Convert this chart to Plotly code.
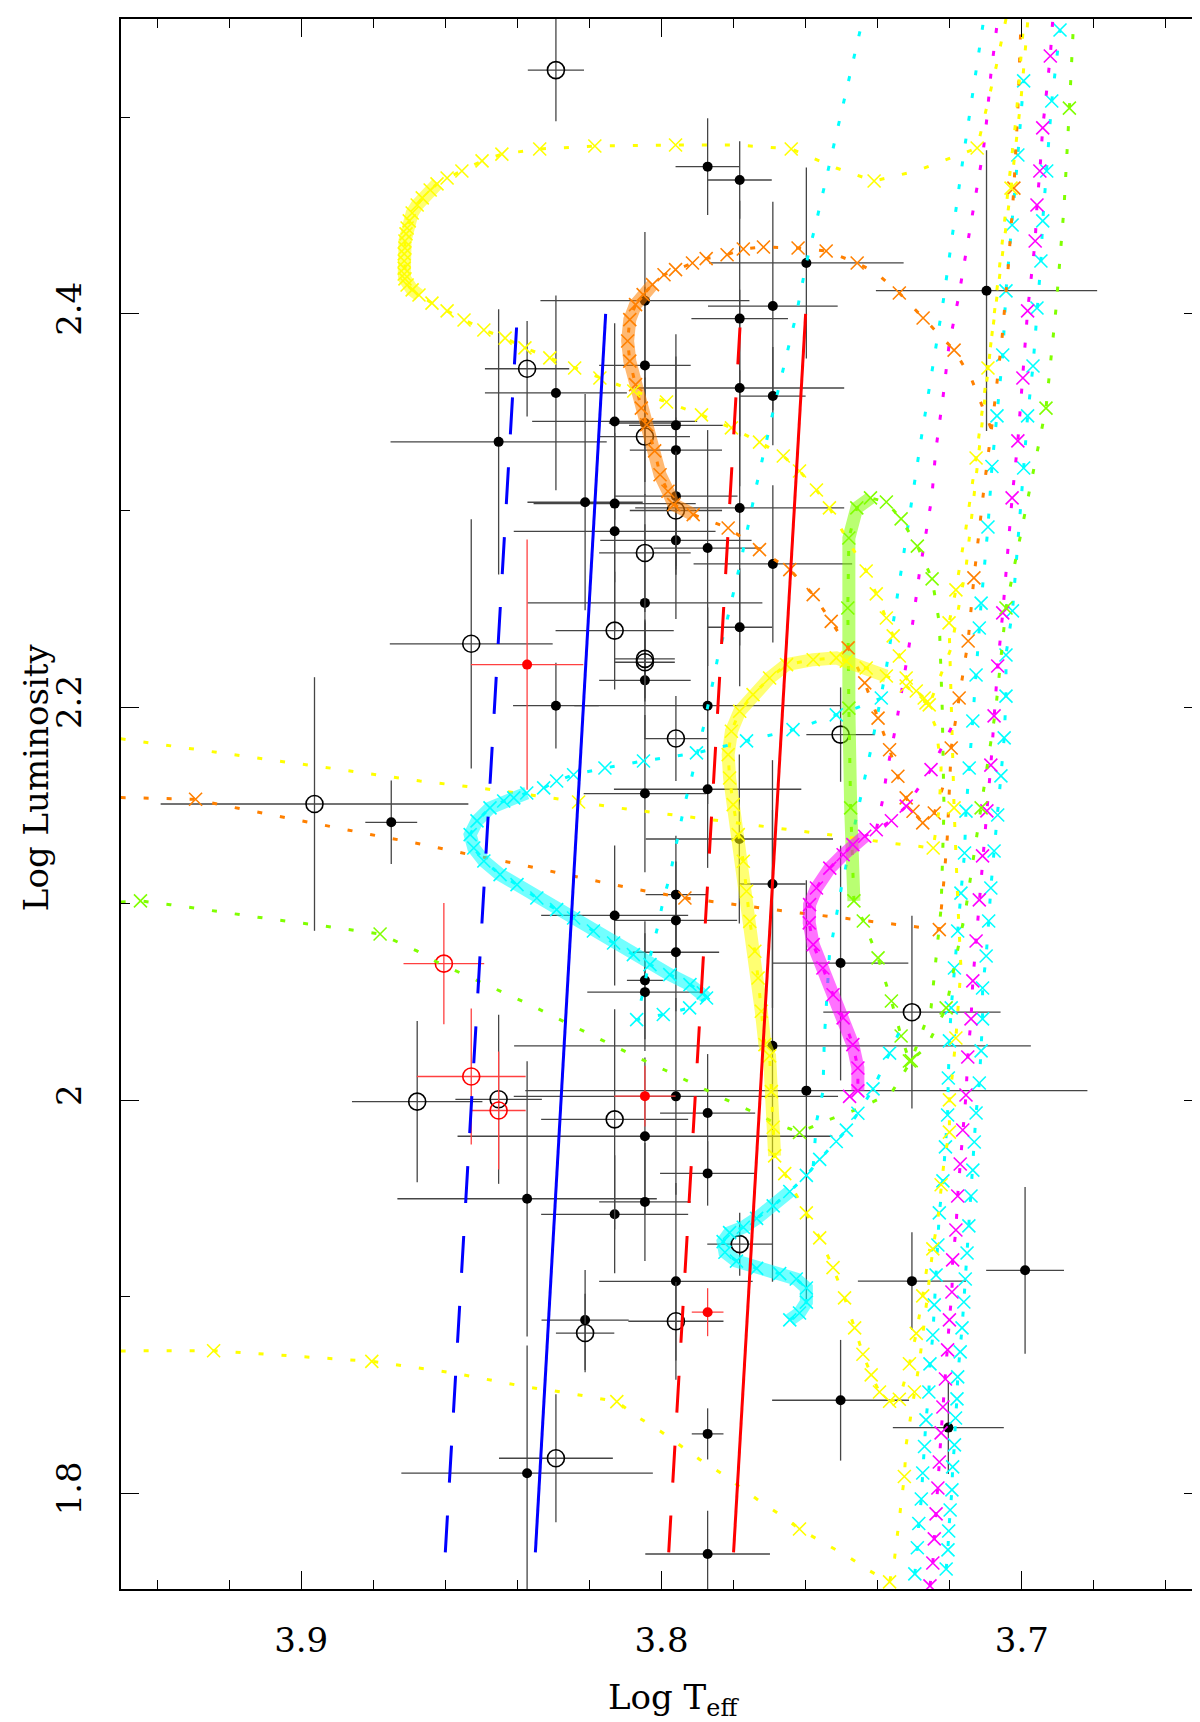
"""
HR diagram: Cepheid-like stars against evolutionary tracks and strip edges
"""

import plotly.graph_objects as go

# ---------------------------------------------------------------- strip edges
STRIP_LOGL = [1.77, 2.40]
BLUE_EDGE_DASH = [3.860, 3.840]
BLUE_EDGE_SOLID = [3.835, 3.8155]
RED_EDGE_DASH = [3.798, 3.778]
RED_EDGE_SOLID = [3.780, 3.760]

# ---------------------------------------------------------------- observed stars
# kind: F = filled black, O = open black, RF = filled red, RO = open red
STAR_LOGT = [3.8293, 3.8373, 3.8293, 3.8452, 3.8212, 3.7872, 3.7783, 3.7598, 3.7098, 3.8046,
             3.7691, 3.7783, 3.8046, 3.7783, 3.7691, 3.8130, 3.8046, 3.7960, 3.8046, 3.7960,
             3.7960, 3.7960, 3.8130, 3.8130, 3.7960, 3.7872, 3.7783, 3.8046, 3.7691, 3.8046,
             3.7783, 3.8130, 3.8528, 3.8373, 3.8046, 3.8046, 3.8046, 3.8293, 3.7872, 3.7960,
             3.7503, 3.8046, 3.7872, 3.7784, 3.7692, 3.8130, 3.7960, 3.7960, 3.7960, 3.8046,
             3.8046, 3.7503, 3.8604, 3.8963, 3.8750, 3.7305, 3.7692, 3.7598, 3.8046, 3.7960,
             3.7872, 3.8046, 3.8130, 3.8452, 3.8452, 3.8528, 3.8678, 3.7872, 3.8373, 3.8046,
             3.8130, 3.7783, 3.7960, 3.7872, 3.7960, 3.8212, 3.8212, 3.7872, 3.8293, 3.8373,
             3.7872, 3.7305, 3.6991, 3.7503, 3.7204]
STAR_LOGL = [2.5240, 2.3721, 2.3598, 2.3349, 2.3042, 2.4749, 2.4681, 2.4259, 2.4118, 2.4067,
             2.4040, 2.3976, 2.3738, 2.3623, 2.3582, 2.3453, 2.3445, 2.3433, 2.3376, 2.3307,
             2.3073, 2.3000, 2.3035, 2.2894, 2.2848, 2.2809, 2.3013, 2.2784, 2.2728, 2.2530,
             2.2406, 2.2389, 2.2322, 2.2216, 2.2245, 2.2228, 2.2136, 2.2007, 2.2007, 2.1840,
             2.1860, 2.1560, 2.1582, 2.1329, 2.1100, 2.0940, 2.1046, 2.0915, 2.0753, 2.0610,
             2.0550, 2.0698, 2.0695, 2.1507, 2.1414, 2.0448, 2.0277, 2.0049, 2.0021, 2.0020,
             1.9935, 1.9817, 1.9903, 2.0005, 1.9948, 2.0121, 1.9993, 1.9628, 1.9499, 1.9483,
             1.9420, 1.9268, 1.9079, 1.8922, 1.8876, 1.8882, 1.8816, 1.8303, 1.8179, 1.8103,
             1.7692, 1.9080, 1.9135, 1.8474, 1.8335]
STAR_ERR_LOGT = [0.0078, 0.0117, 0.0197, 0.0300, 0.0160, 0.0089, 0.0089, 0.0270, 0.0307, 0.0290,
                 0.0180, 0.0134, 0.0127, 0.0290, 0.0091, 0.0229, 0.0100, 0.0130, 0.0125, 0.0128,
                 0.0171, 0.0128, 0.0225, 0.0280, 0.0210, 0.0150, 0.0290, 0.0127, 0.0220, 0.0326,
                 0.0090, 0.0164, 0.0226, 0.0156, 0.0083, 0.0083, 0.0127, 0.0119, 0.0370, 0.0087,
                 0.0095, 0.0170, 0.0260, 0.0260, 0.0092, 0.0204, 0.0084, 0.0170, 0.0120, 0.0050,
                 0.0160, 0.0188, 0.0112, 0.0427, 0.0072, 0.0246, 0.0717, 0.0780, 0.0085, 0.0450,
                 0.0132, 0.0520, 0.0204, 0.0120, 0.0075, 0.0151, 0.0181, 0.0132, 0.0360, 0.0127,
                 0.0204, 0.0090, 0.0213, 0.0044, 0.0132, 0.0121, 0.0081, 0.0044, 0.0158, 0.0349,
                 0.0173, 0.0150, 0.0108, 0.0190, 0.0154]
STAR_ERR_LOGL = [0.026, 0.0243, 0.0495, 0.0674, 0.055, 0.0246, 0.0197, 0.0486, 0.0714, 0.035,
                 0.053, 0.06, 0.04, 0.05, 0.025, 0.05, 0.03, 0.035, 0.03, 0.059,
                 0.04, 0.03, 0.04, 0.05, 0.04, 0.06, 0.07, 0.03, 0.04, 0.04,
                 0.03, 0.03, 0.0634, 0.0636, 0.02, 0.02, 0.03, 0.0218, 0.05, 0.0216,
                 0.024, 0.04, 0.04, 0.043, 0.063, 0.0356, 0.03, 0.03, 0.03, 0.03,
                 0.03, 0.0597, 0.0308, 0.0645, 0.0212, 0.049, 0.12, 0.107, 0.0154, 0.05,
                 0.03, 0.04, 0.056, 0.043, 0.03, 0.0346, 0.041, 0.0164, 0.07, 0.03,
                 0.03, 0.016, 0.05, 0.0122, 0.02, 0.0254, 0.02, 0.013, 0.0325, 0.065,
                 0.022, 0.0249, 0.0424, 0.0307, 0.0236]
STAR_KIND = ['O', 'O', 'F', 'F', 'F', 'F', 'F', 'F', 'F', 'F',
             'F', 'F', 'F', 'F', 'F', 'F', 'F', 'F', 'O', 'F',
             'F', 'O', 'F', 'F', 'F', 'F', 'F', 'O', 'F', 'F',
             'F', 'O', 'O', 'RF', 'O', 'O', 'F', 'F', 'F', 'O',
             'O', 'F', 'F', 'F', 'F', 'F', 'F', 'F', 'F', 'F',
             'F', 'F', 'RO', 'O', 'F', 'O', 'F', 'F', 'RF', 'F',
             'F', 'F', 'O', 'O', 'RO', 'RO', 'O', 'F', 'F', 'F',
             'F', 'O', 'F', 'RF', 'O', 'F', 'O', 'F', 'O', 'F',
             'F', 'F', 'F', 'F', 'F']

# ---------------------------------------------------------------- tracks (log Teff, log L)
YELLOW_TOP = [(3.7044, 2.5500), (3.7072, 2.5251), (3.7124, 2.4844), (3.7177, 2.4808), (3.7293, 2.4727),
              (3.7410, 2.4676), (3.7515, 2.4742), (3.7640, 2.4839), (3.7792, 2.4859), (3.7961, 2.4859),
              (3.8185, 2.4854), (3.8338, 2.4839), (3.8443, 2.4813), (3.8498, 2.4778), (3.8554, 2.4727),
              (3.8595, 2.4691), (3.8623, 2.4661), (3.8642, 2.4630), (3.8664, 2.4590), (3.8678, 2.4554),
              (3.8692, 2.4513), (3.8700, 2.4473), (3.8706, 2.4437), (3.8709, 2.4407), (3.8712, 2.4371),
              (3.8712, 2.4335), (3.8714, 2.4305), (3.8714, 2.4269), (3.8714, 2.4233), (3.8714, 2.4203),
              (3.8712, 2.4178), (3.8706, 2.4147), (3.8692, 2.4122), (3.8673, 2.4096), (3.8637, 2.4055),
              (3.8595, 2.4015), (3.8548, 2.3969), (3.8493, 2.3918), (3.8434, 2.3877), (3.8379, 2.3827),
              (3.8310, 2.3776), (3.8241, 2.3725), (3.8171, 2.3674), (3.8077, 2.3608), (3.7986, 2.3552),
              (3.7889, 2.3486), (3.7806, 2.3420), (3.7728, 2.3348), (3.7662, 2.3277), (3.7617, 2.3201),
              (3.7570, 2.3104), (3.7534, 2.3013), (3.7487, 2.2860), (3.7432, 2.2692), (3.7404, 2.2576),
              (3.7376, 2.2453), (3.7357, 2.2362), (3.7340, 2.2260), (3.7321, 2.2148), (3.7293, 2.2082),
              (3.7271, 2.2046), (3.7257, 2.2011), (3.7196, 2.2301), (3.7155, 2.2708), (3.7127, 2.3165),
              (3.7099, 2.3623), (3.7072, 2.4081), (3.7044, 2.4539), (3.7016, 2.4996), (3.6994, 2.5500)]
YELLOW_TOP_CROSSES = [2, 5, 7] + list(range(9, 52)) + list(range(53, 62))
YELLOW_TOP_SLOW = (16, 33)

YELLOW_MID = [(3.9501, 2.1839), (3.9363, 2.1802), (3.9224, 2.1767), (3.9085, 2.1731), (3.8947, 2.1697),
              (3.8808, 2.1661), (3.8670, 2.1624), (3.8531, 2.1594), (3.8393, 2.1561), (3.8230, 2.1517),
              (3.8120, 2.1487), (3.7986, 2.1456), (3.7847, 2.1424), (3.7709, 2.1390), (3.7570, 2.1360),
              (3.7501, 2.1343), (3.7368, 2.1309), (3.7293, 2.1292), (3.7246, 2.1283), (3.7229, 2.1487),
              (3.7224, 2.1690), (3.7238, 2.1894), (3.7266, 2.2021), (3.7321, 2.2107), (3.7376, 2.2158),
              (3.7432, 2.2199), (3.7487, 2.2234), (3.7515, 2.2250), (3.7579, 2.2241), (3.7653, 2.2216),
              (3.7700, 2.2148), (3.7746, 2.2063), (3.7783, 2.1979), (3.7806, 2.1877), (3.7815, 2.1758),
              (3.7811, 2.1639), (3.7801, 2.1504), (3.7787, 2.1351), (3.7773, 2.1216), (3.7764, 2.1063),
              (3.7755, 2.0910), (3.7741, 2.0758), (3.7732, 2.0622), (3.7723, 2.0453), (3.7713, 2.0283),
              (3.7700, 2.0226), (3.7695, 2.0044), (3.7690, 1.9863), (3.7686, 1.9717), (3.7658, 1.9627),
              (3.7598, 1.9427), (3.7561, 1.9300), (3.7524, 1.9149), (3.7492, 1.8995), (3.7464, 1.8842),
              (3.7441, 1.8708), (3.7418, 1.8603), (3.7395, 1.8516), (3.7367, 1.8469), (3.7340, 1.8479),
              (3.7312, 1.8660), (3.7293, 1.8814), (3.7275, 1.9005), (3.7256, 1.9244)]
YELLOW_MID_CROSSES = [9, 18] + list(range(22, 63))
YELLOW_MID_SLOW = (24, 48)

YELLOW_LOW = [(3.9501, 1.8725), (3.9243, 1.8726), (3.8804, 1.8672), (3.8578, 1.8613), (3.8384, 1.8545),
              (3.8254, 1.8509), (3.8124, 1.8467), (3.8060, 1.8382), (3.8004, 1.8318), (3.7949, 1.8247),
              (3.7894, 1.8173), (3.7833, 1.8101), (3.7778, 1.8028), (3.7723, 1.7955), (3.7663, 1.7883),
              (3.7617, 1.7819), (3.7552, 1.7751), (3.7487, 1.7684), (3.7423, 1.7607), (3.7367, 1.7550),
              (3.7353, 1.7674), (3.7344, 1.7809), (3.7335, 1.7943), (3.7326, 1.8086), (3.7321, 1.8249),
              (3.7298, 1.8516), (3.7284, 1.8670), (3.7275, 1.8804), (3.7266, 1.8939), (3.7256, 1.9091),
              (3.7247, 1.9244), (3.7233, 1.9397), (3.7224, 1.9570), (3.7215, 1.9704), (3.7201, 1.9838),
              (3.7201, 2.0002), (3.7192, 2.0144), (3.7183, 2.0317), (3.7169, 2.0673), (3.7177, 2.0978),
              (3.7188, 2.1487), (3.7196, 2.1995), (3.7202, 2.2428), (3.7183, 2.2596), (3.7155, 2.2911),
              (3.7127, 2.3267), (3.7094, 2.3725), (3.7063, 2.4183), (3.7030, 2.4640), (3.7002, 2.5098),
              (3.6983, 2.5500)]
YELLOW_LOW_CROSSES = [1, 2, 6, 15, 19, 23, 25, 30, 32, 34, 35, 37, 40, 42, 43, 45, 46, 48]

ORANGE_RGB = [(3.9501, 2.1540), (3.9293, 2.1531), (3.9224, 2.1503), (3.9085, 2.1454), (3.8947, 2.1403),
              (3.8808, 2.1352), (3.8670, 2.1304), (3.8541, 2.1253), (3.8402, 2.1203), (3.8199, 2.1122),
              (3.8064, 2.1071), (3.7935, 2.1029), (3.7856, 2.1009), (3.7723, 2.0978), (3.7653, 2.0961),
              (3.7515, 2.0931), (3.7376, 2.0902), (3.7307, 2.0885), (3.7229, 2.0868), (3.7218, 2.1080),
              (3.7207, 2.1334), (3.7196, 2.1792), (3.7174, 2.2046), (3.7149, 2.2336), (3.7133, 2.2657),
              (3.7105, 2.3115), (3.7077, 2.3521), (3.7055, 2.3877), (3.7038, 2.4233), (3.7022, 2.4640),
              (3.7011, 2.5047), (3.7002, 2.5500)]
ORANGE_RGB_CROSSES = [1, 11, 18, 21, 22, 23, 24, 29]

ORANGE_LOOP = [(3.7086, 2.3420), (3.7141, 2.3674), (3.7188, 2.3816), (3.7274, 2.3979), (3.7340, 2.4106),
               (3.7404, 2.4208), (3.7457, 2.4259), (3.7543, 2.4320), (3.7621, 2.4335), (3.7717, 2.4340),
               (3.7773, 2.4330), (3.7818, 2.4301), (3.7876, 2.4281), (3.7914, 2.4259), (3.7961, 2.4225),
               (3.7993, 2.4199), (3.8025, 2.4149), (3.8051, 2.4098), (3.8072, 2.4047), (3.8088, 2.3971),
               (3.8094, 2.3862), (3.8088, 2.3760), (3.8072, 2.3640), (3.8056, 2.3521), (3.8041, 2.3436),
               (3.8019, 2.3303), (3.8004, 2.3182), (3.7982, 2.3098), (3.7966, 2.3030), (3.7912, 2.2979),
               (3.7815, 2.2911), (3.7728, 2.2801), (3.7644, 2.2699), (3.7579, 2.2572), (3.7529, 2.2436),
               (3.7482, 2.2301), (3.7436, 2.2123), (3.7399, 2.1944), (3.7367, 2.1783), (3.7344, 2.1648),
               (3.7321, 2.1538), (3.7302, 2.1470), (3.7275, 2.1411), (3.7243, 2.1461), (3.7218, 2.1599)]
ORANGE_LOOP_CROSSES = [2, 3, 4] + list(range(6, 44))
ORANGE_LOOP_SLOW = (16, 29)

CYAN_LOOP = [(3.7390, 2.2046), (3.7460, 2.1995), (3.7515, 2.1960), (3.7635, 2.1885), (3.7764, 2.1828),
             (3.7903, 2.1767), (3.8050, 2.1726), (3.8157, 2.1690), (3.8244, 2.1656), (3.8291, 2.1624),
             (3.8327, 2.1589), (3.8374, 2.1563), (3.8410, 2.1538), (3.8438, 2.1522), (3.8476, 2.1487),
             (3.8512, 2.1421), (3.8531, 2.1351), (3.8521, 2.1283), (3.8493, 2.1217), (3.8448, 2.1148),
             (3.8401, 2.1097), (3.8346, 2.1029), (3.8291, 2.0970), (3.8244, 2.0927), (3.8189, 2.0861),
             (3.8133, 2.0800), (3.8078, 2.0741), (3.8032, 2.0690), (3.7977, 2.0639), (3.7921, 2.0588),
             (3.7884, 2.0546), (3.7875, 2.0520), (3.7922, 2.0470), (3.7995, 2.0436), (3.8069, 2.0410),
             (3.8055, 2.0520), (3.8027, 2.0766), (3.8009, 2.0893), (3.7995, 2.1020), (3.7977, 2.1139),
             (3.7963, 2.1267), (3.7949, 2.1385), (3.7935, 2.1512), (3.7917, 2.1639), (3.7884, 2.1894),
             (3.7856, 2.2139), (3.7843, 2.2260), (3.7825, 2.2387), (3.7778, 2.2758), (3.7736, 2.3131),
             (3.7690, 2.3506), (3.7626, 2.3996), (3.7598, 2.4259), (3.7568, 2.4488), (3.7536, 2.4742),
             (3.7505, 2.4996), (3.7475, 2.5242), (3.7443, 2.5488)]
CYAN_LOOP_CROSSES = [0] + list(range(2, 35))
CYAN_LOOP_SLOW = (11, 31)

CYAN_S = [(3.7644, 1.8883), (3.7617, 1.8918), (3.7598, 1.8973), (3.7598, 1.9045), (3.7626, 1.9091),
          (3.7672, 1.9118), (3.7736, 1.9145), (3.7792, 1.9182), (3.7824, 1.9227), (3.7829, 1.9281),
          (3.7811, 1.9327), (3.7773, 1.9354), (3.7736, 1.9399), (3.7690, 1.9463), (3.7644, 1.9536),
          (3.7598, 1.9618), (3.7561, 1.9699), (3.7515, 1.9790), (3.7487, 1.9848), (3.7455, 1.9934),
          (3.7413, 2.0058), (3.7367, 2.0240), (3.7335, 2.0368)]
CYAN_S_CROSSES = list(range(0, 22))
CYAN_S_SLOW = (0, 14)

CYAN_DOTTED = [(3.7108, 2.5470), (3.7163, 2.4793), (3.7218, 2.4066), (3.7279, 2.3369), (3.7335, 2.2692),
               (3.7376, 2.2199), (3.7418, 2.1792), (3.7460, 2.1436), (3.7501, 2.1080), (3.7534, 2.0739),
               (3.7548, 2.0317), (3.7552, 2.0044), (3.7570, 1.9890), (3.7579, 1.9663)]

CYAN_COL_A = [(3.7297, 1.7591), (3.7290, 1.7724), (3.7286, 1.7847), (3.7279, 1.7972), (3.7275, 1.8104),
              (3.7270, 1.8239), (3.7266, 1.8374), (3.7258, 1.8516), (3.7255, 1.8659), (3.7247, 1.8806),
              (3.7243, 1.8959), (3.7238, 1.9111), (3.7233, 1.9264), (3.7229, 1.9427), (3.7219, 1.9590),
              (3.7212, 1.9763), (3.7206, 1.9925), (3.7204, 2.0113), (3.7201, 2.0302), (3.7196, 2.0470),
              (3.7187, 2.0673), (3.7178, 2.0861), (3.7169, 2.1054), (3.7159, 2.1258), (3.7155, 2.1471),
              (3.7146, 2.1690), (3.7136, 2.1929), (3.7127, 2.2163), (3.7118, 2.2402), (3.7113, 2.2529),
              (3.7094, 2.2916), (3.7083, 2.3224), (3.7069, 2.3481), (3.7053, 2.3791), (3.7044, 2.4117),
              (3.7027, 2.4452), (3.7011, 2.4808), (3.6995, 2.5185)]

CYAN_COL_B = [(3.7210, 1.7616), (3.7205, 1.7713), (3.7203, 1.7809), (3.7199, 1.7916), (3.7194, 1.8018),
              (3.7192, 1.8135), (3.7187, 1.8247), (3.7184, 1.8384), (3.7180, 1.8481), (3.7178, 1.8593),
              (3.7171, 1.8720), (3.7166, 1.8842), (3.7161, 1.8974), (3.7157, 1.9091), (3.7152, 1.9223),
              (3.7147, 1.9361), (3.7141, 1.9513), (3.7136, 1.9645), (3.7132, 1.9788), (3.7127, 1.9935),
              (3.7118, 2.0088), (3.7113, 2.0251), (3.7109, 2.0414), (3.7109, 2.0571), (3.7099, 2.0734),
              (3.7092, 2.0912), (3.7086, 2.1080), (3.7077, 2.1268), (3.7067, 2.1451), (3.7058, 2.1650),
              (3.7049, 2.1843), (3.7044, 2.2056), (3.7044, 2.2265), (3.7026, 2.2489), (3.6995, 2.3216),
              (3.6984, 2.3481), (3.6969, 2.3735), (3.6958, 2.4030), (3.6947, 2.4269), (3.6942, 2.4473),
              (3.6931, 2.4727), (3.6917, 2.5083), (3.6894, 2.5444)]

MAGENTA_DOTTED = [(3.7070, 2.5454), (3.7086, 2.5217), (3.7097, 2.4996), (3.7107, 2.4829), (3.7128, 2.4605),
                  (3.7149, 2.4371), (3.7176, 2.4081), (3.7202, 2.3842), (3.7218, 2.3588), (3.7239, 2.3303),
                  (3.7250, 2.3064), (3.7285, 2.2672), (3.7304, 2.2413), (3.7326, 2.2163), (3.7349, 2.1909),
                  (3.7376, 2.1655), (3.7385, 2.1538), (3.7404, 2.1376)]

MAGENTA_LOOP = [(3.7196, 2.1894), (3.7252, 2.1682), (3.7321, 2.1496), (3.7362, 2.1422), (3.7404, 2.1376),
                (3.7436, 2.1343), (3.7469, 2.1300), (3.7496, 2.1249), (3.7533, 2.1181), (3.7570, 2.1080),
                (3.7589, 2.0995), (3.7590, 2.0902), (3.7579, 2.0792), (3.7552, 2.0673), (3.7524, 2.0537),
                (3.7496, 2.0419), (3.7469, 2.0283), (3.7455, 2.0164), (3.7455, 2.0048), (3.7478, 2.0020)]
MAGENTA_LOOP_CROSSES = list(range(1, 20))
MAGENTA_LOOP_SLOW = (5, 18)

MAGENTA_COL = [(3.7255, 1.7530), (3.7247, 1.7646), (3.7243, 1.7769), (3.7238, 1.7896), (3.7233, 1.8028),
               (3.7229, 1.8160), (3.7224, 1.8308), (3.7219, 1.8440), (3.7212, 1.8582), (3.7206, 1.8730),
               (3.7201, 1.8883), (3.7194, 1.9025), (3.7192, 1.9188), (3.7183, 1.9340), (3.7178, 1.9513),
               (3.7171, 1.9676), (3.7164, 1.9849), (3.7155, 2.0027), (3.7150, 2.0220), (3.7141, 2.0414),
               (3.7136, 2.0607), (3.7127, 2.0810), (3.7118, 2.1019), (3.7109, 2.1243), (3.7097, 2.1472),
               (3.7086, 2.1705), (3.7077, 2.1955), (3.7067, 2.2209), (3.7053, 2.2479), (3.7027, 2.3064),
               (3.7011, 2.3354), (3.6997, 2.3674), (3.6984, 2.4015), (3.6963, 2.4371), (3.6958, 2.4554),
               (3.6950, 2.4727), (3.6942, 2.4946), (3.6921, 2.5312), (3.6914, 2.5500)]

GREEN_TRACK = [(3.9501, 2.1009), (3.9446, 2.1014), (3.9363, 2.0995), (3.9224, 2.0958), (3.9085, 2.0922),
               (3.8947, 2.0889), (3.8781, 2.0846), (3.8679, 2.0760), (3.8615, 2.0695), (3.8495, 2.0595),
               (3.8365, 2.0486), (3.8304, 2.0430), (3.8244, 2.0376), (3.8180, 2.0320), (3.8120, 2.0266),
               (3.8055, 2.0208), (3.7991, 2.0154), (3.7930, 2.0099), (3.7866, 2.0044), (3.7806, 1.9990),
               (3.7741, 1.9936), (3.7681, 1.9881), (3.7617, 1.9836), (3.7552, 1.9890), (3.7455, 1.9956),
               (3.7362, 2.0037), (3.7307, 2.0202), (3.7252, 2.0470), (3.7224, 2.0978), (3.7216, 2.1487),
               (3.7221, 2.1995), (3.7229, 2.2428), (3.7249, 2.2652), (3.7290, 2.2819), (3.7335, 2.2957),
               (3.7376, 2.3043), (3.7420, 2.3064), (3.7458, 2.3013), (3.7480, 2.2860), (3.7483, 2.2504),
               (3.7480, 2.1995), (3.7475, 2.1487), (3.7466, 2.1014), (3.7440, 2.0912), (3.7399, 2.0724),
               (3.7362, 2.0505), (3.7335, 2.0327), (3.7312, 2.0200), (3.7266, 2.0266), (3.7210, 2.0470),
               (3.7155, 2.0978), (3.7113, 2.1487), (3.7072, 2.1995), (3.7044, 2.2504), (3.6989, 2.3013),
               (3.6933, 2.3521), (3.6905, 2.4030), (3.6883, 2.4539), (3.6868, 2.5047), (3.6856, 2.5500)]
GREEN_TRACK_CROSSES = [1, 6, 22, 26] + list(range(32, 48)) + [49, 51, 53, 55, 58]
GREEN_TRACK_SLOW = (36, 42)

YELLOW = '#ffff00'
ORANGE = '#ff8000'
CYAN = '#00ffff'
MAGENTA = '#ff00ff'
GREEN = '#80ff00'
FONT = 'DejaVu Serif'


def add_track(fig, path, color, crosses=(), slow=None):
    """Dotted track line, optional band for the slow phase, and x markers."""
    xs = [p[0] for p in path]
    ys = [p[1] for p in path]
    fig.add_trace(go.Scatter(
        x=xs, y=ys, mode='lines', hoverinfo='skip',
        line=dict(color=color, width=3, dash='5px,18px')))
    if slow is not None:
        a, b = slow
        fig.add_trace(go.Scatter(
            x=xs[a:b + 1], y=ys[a:b + 1], mode='lines', hoverinfo='skip',
            opacity=0.55, line=dict(color=color, width=13)))
    if crosses:
        fig.add_trace(go.Scatter(
            x=[xs[i] for i in crosses], y=[ys[i] for i in crosses],
            mode='markers', hoverinfo='skip',
            marker=dict(symbol='x-thin', size=13, line=dict(color=color, width=1.6))))


def add_stars(fig, kind, symbol, size, color, bar_color):
    """Stars of one kind with their error bars."""
    idx = [i for i, k in enumerate(STAR_KIND) if k == kind]
    open_marker = symbol.endswith('open')
    fig.add_trace(go.Scatter(
        x=[STAR_LOGT[i] for i in idx], y=[STAR_LOGL[i] for i in idx],
        mode='markers',
        error_x=dict(type='data', array=[STAR_ERR_LOGT[i] for i in idx],
                     color=bar_color, thickness=1.3, width=0),
        error_y=dict(type='data', array=[STAR_ERR_LOGL[i] for i in idx],
                     color=bar_color, thickness=1.3, width=0),
        marker=dict(symbol=symbol, size=size, color=color,
                    line=dict(color=color, width=1.6 if open_marker else 0))))


def add_edge(fig, logt, color, dashed):
    fig.add_trace(go.Scatter(
        x=logt, y=STRIP_LOGL, mode='lines', hoverinfo='skip',
        line=dict(color=color, width=3, dash='37px,33px' if dashed else 'solid')))


fig = go.Figure()

# stars first, tracks drawn over them as in the original
add_stars(fig, 'F', 'circle', 10, 'black', '#454545')
add_stars(fig, 'O', 'circle-open', 17, 'black', '#454545')
add_stars(fig, 'RF', 'circle', 10, '#ff0000', '#ff4040')
add_stars(fig, 'RO', 'circle-open', 17, '#ff0000', '#ff4040')

add_track(fig, CYAN_COL_A, CYAN, crosses=list(range(len(CYAN_COL_A))))
add_track(fig, CYAN_COL_B, CYAN, crosses=list(range(len(CYAN_COL_B))))
add_track(fig, MAGENTA_COL, MAGENTA, crosses=list(range(len(MAGENTA_COL) - 1)))
add_track(fig, CYAN_DOTTED, CYAN)
add_track(fig, MAGENTA_DOTTED, MAGENTA)
add_track(fig, GREEN_TRACK, GREEN, GREEN_TRACK_CROSSES, GREEN_TRACK_SLOW)
add_track(fig, ORANGE_RGB, ORANGE, ORANGE_RGB_CROSSES)
add_track(fig, ORANGE_LOOP, ORANGE, ORANGE_LOOP_CROSSES, ORANGE_LOOP_SLOW)
add_track(fig, YELLOW_LOW, YELLOW, YELLOW_LOW_CROSSES)
add_track(fig, YELLOW_TOP, YELLOW, YELLOW_TOP_CROSSES, YELLOW_TOP_SLOW)
add_track(fig, YELLOW_MID, YELLOW, YELLOW_MID_CROSSES, YELLOW_MID_SLOW)
add_track(fig, CYAN_LOOP, CYAN, CYAN_LOOP_CROSSES, CYAN_LOOP_SLOW)
add_track(fig, CYAN_S, CYAN, CYAN_S_CROSSES, CYAN_S_SLOW)
add_track(fig, MAGENTA_LOOP, MAGENTA, MAGENTA_LOOP_CROSSES, MAGENTA_LOOP_SLOW)

add_edge(fig, BLUE_EDGE_DASH, '#0000ff', True)
add_edge(fig, BLUE_EDGE_SOLID, '#0000ff', False)
add_edge(fig, RED_EDGE_DASH, '#ff0000', True)
add_edge(fig, RED_EDGE_SOLID, '#ff0000', False)

axis_common = dict(
    ticks='inside', ticklen=18, tickwidth=1.3, tickcolor='black',
    showline=True, linecolor='black', linewidth=1.5, mirror='allticks',
    showgrid=False, zeroline=False,
    tickfont=dict(family=FONT, size=34, color='black'),
)

fig.update_layout(
    width=1200, height=1722,
    margin=dict(l=113, r=4, t=11, b=141),
    paper_bgcolor='white', plot_bgcolor='white',
    showlegend=False,
    xaxis=dict(range=[3.95, 3.65], tickmode='array', tickvals=[3.9, 3.8, 3.7],
               ticktext=['3.9', '3.8', '3.7'], ticklabelstandoff=20,
               minor=dict(tickmode='linear', tick0=3.7, dtick=0.02, ticks='inside',
                          ticklen=9, tickwidth=1.3, tickcolor='black', showgrid=False),
               **axis_common),
    yaxis=dict(range=[1.7514, 2.55], tickmode='array', tickvals=[1.8, 2.0, 2.2, 2.4],
               ticktext=['1.8', '2', '2.2', '2.4'], tickangle=-90, ticklabelstandoff=25,
               minor=dict(tickmode='linear', tick0=1.8, dtick=0.1, ticks='inside',
                          ticklen=9, tickwidth=1.3, tickcolor='black', showgrid=False),
               **axis_common),
    annotations=[
        dict(text='Log T<sub>eff</sub>', xref='paper', yref='paper', x=0.5115, y=-0.0707,
             xanchor='center', yanchor='middle', showarrow=False,
             font=dict(family=FONT, size=34, color='black')),
        dict(text='Log Luminosity', xref='paper', yref='paper', x=-0.0785, y=0.5172,
             xanchor='center', yanchor='middle', textangle=-90, showarrow=False,
             font=dict(family=FONT, size=34, color='black')),
    ],
)

fig.write_html("out.html")
